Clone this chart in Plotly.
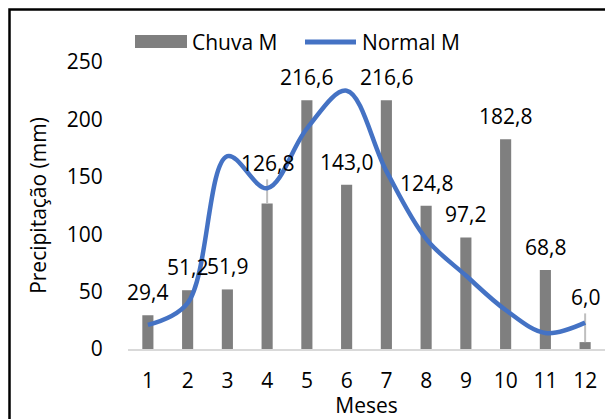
import plotly.graph_objects as go

# Monthly rainfall (bars) against the climatological normal (smoothed line)
meses = [1, 2, 3, 4, 5, 6, 7, 8, 9, 10, 11, 12]
chuva_m = [29.4, 51.2, 51.9, 126.8, 216.6, 143.0, 216.6, 124.8, 97.2, 182.8, 68.8, 6.0]
normal_m = [21, 40, 168, 140, 192, 225, 155, 96, 64, 34, 14, 23]
erro_sup = [0, 0, 0, 21, 0, 0, 0, 0, 0, 0, 0, 25]
y_ticks = [0, 50, 100, 150, 200, 250]

FONT = "Open Sans"
FS = 21
W, H = 605, 419
ML, MR, MT, MB = 128, 0, 62, 70
PW, PH = W - ML - MR, H - MT - MB


def px_x(x):
    return (x - ML) / PW


def px_y(y):
    return (H - MB - y) / PH


fig = go.Figure()

fig.add_trace(go.Bar(
    x=meses, y=chuva_m, name="Chuva M",
    marker=dict(color="#7f7f7f", line=dict(width=0)),
    width=0.28,
    error_y=dict(type="data", array=erro_sup, arrayminus=[0] * 12,
                 symmetric=False, color="#bfbfbf", thickness=2, width=0),
    showlegend=False,
))

fig.add_trace(go.Scatter(
    x=meses, y=normal_m, name="Normal M", mode="lines",
    line=dict(color="#4472c4", width=4.5, shape="spline", smoothing=1.0),
    showlegend=False,
))

# Value labels above each bar (above the error bar where there is one)
annotations = []
for m, v, e in zip(meses, chuva_m, erro_sup):
    annotations.append(dict(
        x=m, y=v + e, xref="x", yref="y",
        text=f"{v:.1f}".replace(".", ","), showarrow=False,
        yanchor="middle", yshift=16 if e else 23,
        font=dict(family=FONT, size=FS, color="#000000"),
    ))

# Legend drawn as a single row above the plot
annotations += [
    dict(x=px_x(190), y=px_y(42), xref="paper", yref="paper", text="Chuva M",
         showarrow=False, xanchor="left", yanchor="middle",
         font=dict(family=FONT, size=FS, color="#000000")),
    dict(x=px_x(360), y=px_y(42), xref="paper", yref="paper", text="Normal M",
         showarrow=False, xanchor="left", yanchor="middle",
         font=dict(family=FONT, size=FS, color="#000000")),
]

shapes = [
    dict(type="rect", xref="paper", yref="paper",
         x0=px_x(135), x1=px_x(187), y0=px_y(48), y1=px_y(35),
         fillcolor="#7f7f7f", line=dict(width=0)),
    dict(type="line", xref="paper", yref="paper",
         x0=px_x(305), x1=px_x(356), y0=px_y(42), y1=px_y(42),
         line=dict(color="#4472c4", width=5)),
    # outer frame of the chart
    dict(type="rect", xref="paper", yref="paper",
         x0=px_x(9.5), x1=px_x(W + 20), y0=px_y(H + 20), y1=px_y(9.5),
         fillcolor="rgba(0,0,0,0)", line=dict(color="#000000", width=2.5),
         layer="above"),
]

fig.update_layout(
    width=W, height=H,
    margin=dict(l=ML, r=MR, t=MT, b=MB, pad=0),
    paper_bgcolor="#ffffff", plot_bgcolor="#ffffff",
    font=dict(family=FONT, size=FS, color="#000000"),
    annotations=annotations, shapes=shapes,
    bargap=0.7,
)

fig.update_xaxes(
    range=[0.5, 12.5], tickmode="array", tickvals=meses,
    ticktext=[str(m) for m in meses],
    ticks="outside", ticklen=12, tickcolor="rgba(0,0,0,0)",
    showline=True, linecolor="#d9d9d9", linewidth=2,
    showgrid=False, zeroline=False,
    tickfont=dict(family=FONT, size=FS, color="#000000"),
    title=dict(text="Meses", standoff=2,
               font=dict(family=FONT, size=FS, color="#000000")),
)

fig.update_yaxes(
    range=[0, 250], tickmode="array", tickvals=y_ticks,
    ticks="outside", ticklen=20, tickcolor="rgba(0,0,0,0)",
    showline=False, showgrid=False, zeroline=False,
    tickfont=dict(family=FONT, size=FS, color="#000000"),
    title=dict(text="Precipitação (mm)", standoff=14,
               font=dict(family=FONT, size=FS, color="#000000")),
)

fig.write_html("out.html")
